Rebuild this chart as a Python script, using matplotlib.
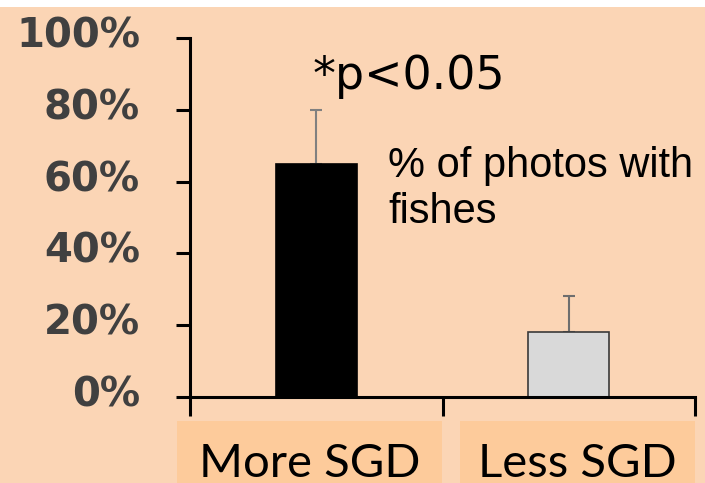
import matplotlib.pyplot as plt
import matplotlib.transforms as mtransforms
from matplotlib.patches import Rectangle

# Dados (% de fotos com peixes)
categories = ['More SGD', 'Less SGD']
values = [65, 18]
errors_up = [15, 10]
bar_colors = ['#000000', '#D9D9D9']
edge_colors = ['#000000', '#3A3A3A']
err_colors = ['#808080', '#6E6E6E']
ytick_values = [0, 20, 40, 60, 80, 100]
ytick_labels = ['0%', '20%', '40%', '60%', '80%', '100%']

W, H = 705, 483
fig = plt.figure(figsize=(W / 100, H / 100), dpi=100)
fig.patch.set_facecolor('white')

bg = '#FBD5B5'
box = '#FDCB9B'
# fundo pêssego (faixa branca fina no topo)
fig.patches.append(Rectangle((0, 0), 1, (H - 7) / H, transform=fig.transFigure,
                             facecolor=bg, edgecolor='none', zorder=-10))

ax = fig.add_axes([190 / W, 86 / H, 505 / W, 359 / H])
ax.set_facecolor('none')

x = range(len(categories))
for i in x:
  ax.bar(i, values[i], width=0.32, color=bar_colors[i], edgecolor=edge_colors[i],
         linewidth=1.2, zorder=2)
  ax.errorbar(i, values[i], yerr=[[0], [errors_up[i]]], fmt='none',
              ecolor=err_colors[i], elinewidth=1.5, capsize=4.5, capthick=1.5, zorder=1)

ax.set_xlim(-0.5, 1.5)
ax.set_ylim(0, 100)

for side in ['top', 'right']:
  ax.spines[side].set_visible(False)
ax.spines['left'].set_linewidth(2.2)
ax.spines['bottom'].set_linewidth(2.2)

ax.set_yticks(ytick_values)
ax.set_yticklabels(ytick_labels, fontsize=29, fontweight='bold', color='#404040',
                   family='DejaVu Sans')
ax.tick_params(axis='y', direction='out', length=10, width=2.2, pad=26)
offset = mtransforms.ScaledTranslation(0, 6 / 100, fig.dpi_scale_trans)
for lbl in ax.get_yticklabels():
  lbl.set_transform(lbl.get_transform() + offset)

ax.set_xticks([-0.5, 0.5, 1.5])
ax.set_xticklabels([])
ax.tick_params(axis='x', direction='out', length=14, width=2.2)

# Caixas com os rótulos das categorias
box_spans = [(177, 442), (460, 695)]
for (x0, x1), name in zip(box_spans, categories):
  fig.patches.append(Rectangle((x0 / W, 0), (x1 - x0) / W, (H - 421) / H,
                               transform=fig.transFigure, facecolor=box,
                               edgecolor='none', zorder=-5))
  fig.text((x0 + x1) / 2 / W, 6 / H, name, ha='center', va='baseline',
           fontsize=34, family='Lato', color='black')

# Anotações
fig.text(313 / W, (H - 89) / H, '*p<0.05', ha='left', va='baseline',
         fontsize=33, family='DejaVu Sans', color='black')
fig.text(388 / W, (H - 223) / H, '% of photos with\nfishes', ha='left', va='baseline',
         fontsize=30, family='Liberation Sans', color='black', linespacing=1.2)

fig.savefig('out.png', dpi=100)
